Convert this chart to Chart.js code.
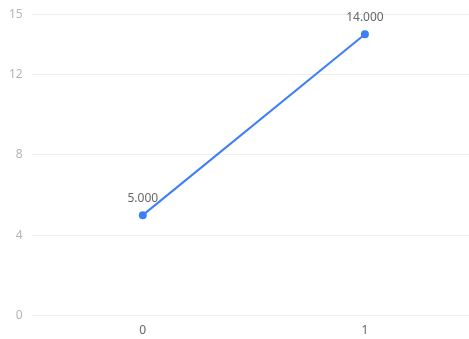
<!DOCTYPE html>
<html>
<head>
<meta charset="utf-8">
<script src="https://cdn.jsdelivr.net/npm/chart.js@4"></script>
<style>
  html, body { margin: 0; padding: 0; background: #fff; overflow: hidden; }
  #wrap { width: 481px; height: 348px; margin-top: -2px; position: relative; }
</style>
</head>
<body>
<div id="wrap"><canvas id="lineChart"></canvas></div>
<script>
// 데이터
const categories = ['0', '1'];
const seriesValues = [5, 14];
const yTicks = [0, 4, 8, 12, 15];

// 점 위에 값 표시 (5.000 형식)
const valueLabelPlugin = {
    id: 'valueLabels',
    afterDatasetsDraw(chart) {
        const ctx = chart.ctx;
        const meta = chart.getDatasetMeta(0);
        ctx.save();
        ctx.font = '12px "Noto Sans", sans-serif';
        ctx.fillStyle = '#666';
        ctx.textAlign = 'center';
        ctx.textBaseline = 'bottom';
        meta.data.forEach((pt, i) => {
            ctx.fillText(seriesValues[i].toFixed(3), pt.x, pt.y - 11);
        });
        ctx.restore();
    }
};

const ctx = document.getElementById('lineChart').getContext('2d');
new Chart(ctx, {
    type: 'line',
    data: {
        labels: categories,
        datasets: [{
            data: seriesValues,
            borderColor: '#3d7ef8',
            backgroundColor: '#3d7ef8',
            borderWidth: 2,
            pointRadius: 3,
            pointHoverRadius: 3,
            tension: 0,
            fill: false
        }]
    },
    options: {
        responsive: true,
        maintainAspectRatio: false,
        animation: false,
        layout: { padding: { top: 3, right: 0, bottom: 0, left: 0 } },
        plugins: {
            legend: { display: false },
            tooltip: { enabled: false }
        },
        scales: {
            x: {
                offset: true,
                grid: { display: false, drawTicks: false },
                border: { display: false },
                ticks: { color: '#666', font: { family: 'Noto Sans', size: 12 }, padding: 8 }
            },
            y: {
                min: 0,
                max: 15,
                afterBuildTicks(axis) {
                    axis.ticks = yTicks.map(v => ({ value: v }));
                },
                grid: { color: '#eeeeee', drawTicks: false },
                border: { display: false },
                ticks: { color: '#b5b5b5', font: { family: 'Noto Sans', size: 12 }, padding: 9 }
            }
        }
    },
    plugins: [valueLabelPlugin]
});
</script>
</body>
</html>
